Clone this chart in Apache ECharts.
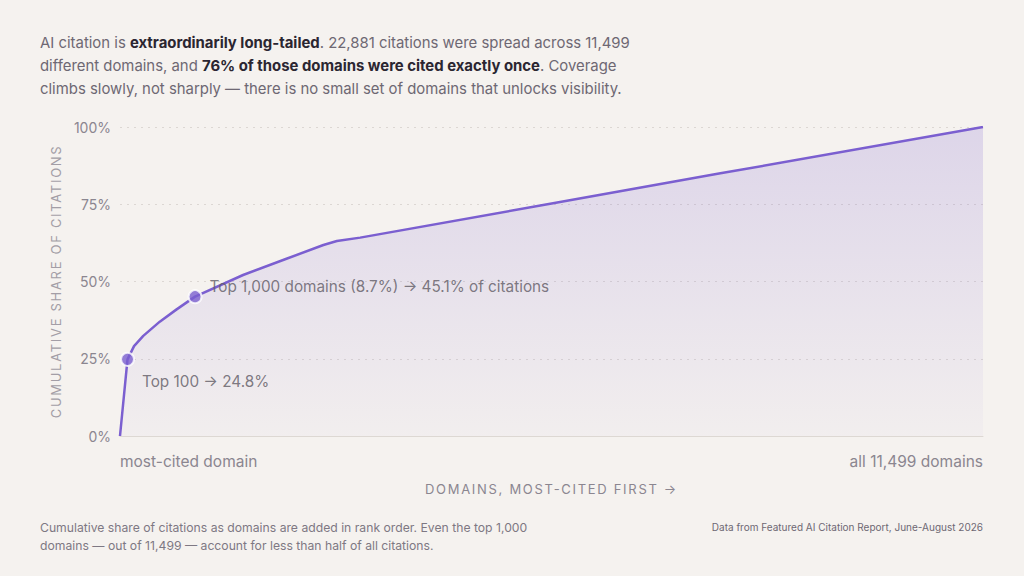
<!DOCTYPE html>
<html>
<head>
<meta charset="utf-8">
<script src="https://cdn.jsdelivr.net/npm/echarts@6/dist/echarts.min.js"></script>
<style>
  html, body { margin: 0; padding: 0; background: #f5f2ef; }
  #main { width: 1024px; height: 576px; }
</style>
</head>
<body>
<div id="main"></div>
<script>
// domains in rank order (x) vs cumulative share of citations in % (y)
const domainRank = [0, 100, 187, 310, 530, 750, 1000, 1640, 2200, 2710, 2890, 3200, 5770, 8000, 11499];
const cumulativeShare = [0, 24.8, 29.1, 32.4, 37.0, 40.9, 45.1, 52.1, 57.2, 61.8, 63.1, 64.2, 75.3, 85.0, 100];

const totalDomains = 11499;
const yTicks = [0, 25, 50, 75, 100];
const xEndLabels = ['most-cited domain', 'all 11,499 domains'];

const highlightRank = [100, 1000];
const highlightShare = [24.8, 45.1];
const highlightText = ['Top 100 → 24.8%', 'Top 1,000 domains (8.7%) → 45.1% of citations'];

const xName = 'DOMAINS, MOST-CITED FIRST →';
const yName = 'CUMULATIVE SHARE OF CITATIONS';

const purple = '#7b5fd0';
const grey = '#8b8690';
const font = 'Inter, "Noto Sans", sans-serif';

// svg so the spaced-out axis names can get letter-spacing afterwards
const chart = echarts.init(document.getElementById('main'), null, { renderer: 'svg' });

const lineData = domainRank.map((d, i) => [d, cumulativeShare[i]]);
const dots = highlightRank.map((d, i) => ({
  value: [d, highlightShare[i]],
  label: i === 0
    ? { show: true, formatter: highlightText[i], position: 'right', offset: [2, 22] }
    : { show: true, formatter: highlightText[i], position: 'right', offset: [2, -10] }
}));

chart.setOption({
  backgroundColor: '#f5f2ef',
  animation: false,
  textStyle: { fontFamily: font },
  title: [
    {
      left: 40, top: 31, padding: 0,
      text: 'AI citation is {b|extraordinarily long-tailed}. 22,881 citations were spread across 11,499\n' +
            'different domains, and {b|76% of those domains were cited exactly once}. Coverage\n' +
            'climbs slowly, not sharply — there is no small set of domains that unlocks visibility.',
      textStyle: {
        fontFamily: font, fontSize: 14.9, fontWeight: 'normal', color: '#6e6873', lineHeight: 23,
        rich: { b: { fontFamily: font, fontSize: 14.9, fontWeight: 'bold', color: '#2b2631', lineHeight: 23 } }
      }
    },
    {
      left: 40, top: 518, padding: 0,
      text: 'Cumulative share of citations as domains are added in rank order. Even the top 1,000\n' +
            'domains — out of 11,499 — account for less than half of all citations.',
      textStyle: { fontFamily: font, fontSize: 12.2, fontWeight: 'normal', color: '#7e7883', lineHeight: 18 }
    },
    {
      right: 41, top: 522, padding: 0,
      text: 'Data from Featured AI Citation Report, June-August 2026',
      textStyle: { fontFamily: font, fontSize: 10, fontWeight: 'normal', color: '#6e6873' }
    }
  ],
  grid: { left: 120, right: 41, top: 127, bottom: 140 },
  xAxis: {
    type: 'value', min: 0, max: totalDomains, interval: totalDomains,
    name: xName, nameLocation: 'middle', nameGap: 46,
    nameTextStyle: { color: grey, fontSize: 13 },
    axisLine: { show: true, lineStyle: { color: '#ddd8d3', width: 1 } },
    axisTick: { show: false },
    splitLine: { show: false },
    axisLabel: {
      color: grey, fontSize: 15.5, margin: 17,
      alignMinLabel: 'left', alignMaxLabel: 'right',
      formatter: v => (v === 0 ? xEndLabels[0] : xEndLabels[1])
    }
  },
  yAxis: {
    type: 'value', min: yTicks[0], max: yTicks[yTicks.length - 1], interval: 25,
    name: yName, nameLocation: 'middle', nameGap: 52,
    nameTextStyle: { color: '#a39ea6', fontSize: 13 },
    axisLine: { show: false },
    axisTick: { show: false },
    axisLabel: { color: grey, fontSize: 14, margin: 9, formatter: '{value}%' },
    splitLine: { show: true, lineStyle: { color: '#dcd7d3', type: [2, 5], width: 1 } }
  },
  series: [
    {
      type: 'line', data: lineData, showSymbol: false, smooth: false,
      lineStyle: { color: purple, width: 2.5 },
      areaStyle: {
        color: new echarts.graphic.LinearGradient(0, 0, 0, 1, [
          { offset: 0, color: 'rgba(123,95,208,0.28)' },
          { offset: 1, color: 'rgba(123,95,208,0.04)' }
        ])
      },
      z: 2
    },
    {
      type: 'scatter', data: dots, symbolSize: 13,
      itemStyle: { color: purple, borderColor: '#ffffff', borderWidth: 2 },
      label: { color: '#5f5a64', fontSize: 15.3 },
      z: 3
    }
  ]
});

// letter-spacing on the two axis titles
document.querySelectorAll('#main text').forEach(t => {
  if (t.textContent === xName || t.textContent === yName) {
    t.setAttribute('letter-spacing', '1.7');
  }
});
</script>
</body>
</html>
